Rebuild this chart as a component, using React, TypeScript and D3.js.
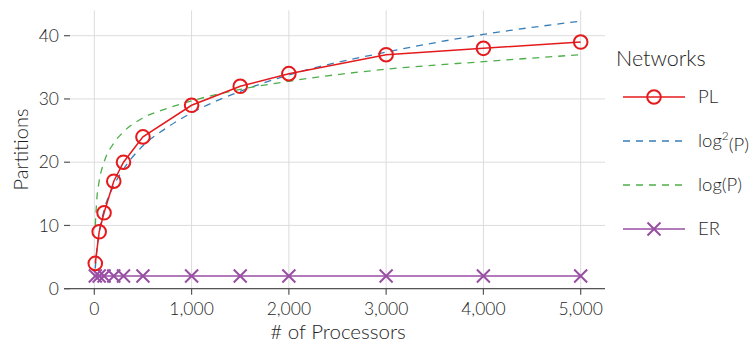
import * as d3 from "d3";
import React from "react";

// # of processors for the measured series
const processors = [10, 50, 100, 200, 300, 500, 1000, 1500, 2000, 3000, 4000, 5000];
const plPartitions = [4, 9, 12, 17, 20, 24, 29, 32, 34, 37, 38, 39];
const erPartitions = [2, 2, 2, 2, 2, 2, 2, 2, 2, 2, 2, 2];

// reference curves
const refProcessors = [10, 25, 50, 100, 200, 300, 500, 750, 1000, 1500, 2000, 3000, 4000, 5000];
const log2Curve = [3.2, 6, 8.9, 12.4, 16.3, 18.9, 22.6, 25.5, 27.8, 31.2, 33.8, 37.4, 40.2, 42.3];
const logCurve = [10, 14, 17, 20, 23, 24.8, 27, 28.5, 29.7, 31.5, 32.8, 34.7, 35.9, 37];

const xTicks = [0, 1000, 2000, 3000, 4000, 5000];
const yTicks = [0, 10, 20, 30, 40];

const RED = "#e41a1c";
const BLUE = "#377eb8";
const GREEN = "#4daf4a";
const PURPLE = "#984ea3";
const FONT = "Lato, 'Open Sans', sans-serif";
const TEXT = "#1e1e1e";

const App = () => {
  const left = 70;
  const right = 605;
  const top = 10.4;
  const bottom = 288.7;

  const x = d3.scaleLinear().domain([-250, 5250]).range([left, right]);
  const y = d3.scaleLinear().domain([0, 44]).range([bottom, top]);

  const line = d3
    .line<[number, number]>()
    .x((d) => x(d[0]))
    .y((d) => y(d[1]));
  const smooth = d3
    .line<[number, number]>()
    .x((d) => x(d[0]))
    .y((d) => y(d[1]))
    .curve(d3.curveMonotoneX);

  const pl = processors.map((p, i) => [p, plPartitions[i]] as [number, number]);
  const er = processors.map((p, i) => [p, erPartitions[i]] as [number, number]);
  const l2 = refProcessors.map((p, i) => [p, log2Curve[i]] as [number, number]);
  const l1 = refProcessors.map((p, i) => [p, logCurve[i]] as [number, number]);

  const fmt = d3.format(",");
  const cross = (cx: number, cy: number, s: number) =>
    `M${cx - s},${cy - s}L${cx + s},${cy + s}M${cx - s},${cy + s}L${cx + s},${cy - s}`;

  const legendItems = [
    { key: "PL", color: RED, dash: null, marker: "circle" },
    { key: "log2", color: BLUE, dash: "7,6", marker: null },
    { key: "log", color: GREEN, dash: "7,6", marker: null },
    { key: "ER", color: PURPLE, dash: null, marker: "cross" },
  ];

  return (
    <svg
      width={756}
      height={346}
      style={{ position: "absolute", left: 0, top: 0, background: "#fff" }}
      fontFamily={FONT}
      fontWeight={300}
    >
      {/* grid */}
      <g stroke="#dcdcdc" strokeWidth={1}>
        {xTicks.map((t) => (
          <line key={"gx" + t} x1={x(t)} x2={x(t)} y1={top} y2={bottom} />
        ))}
        {yTicks.map((t) => (
          <line key={"gy" + t} x1={left} x2={right} y1={y(t)} y2={y(t)} />
        ))}
      </g>

      {/* axes */}
      <g stroke="#555" strokeWidth={1.2}>
        <line x1={64} x2={right} y1={bottom} y2={bottom} />
        {xTicks.map((t) => (
          <line key={"tx" + t} x1={x(t)} x2={x(t)} y1={bottom} y2={bottom + 6} />
        ))}
        {yTicks.map((t) => (
          <line key={"ty" + t} x1={64} x2={left} y1={y(t)} y2={y(t)} />
        ))}
      </g>
      <g fill={TEXT} fontSize={17.5}>
        {xTicks.map((t) => (
          <text key={"lx" + t} x={x(t)} y={315} textAnchor="middle">
            {fmt(t)}
          </text>
        ))}
        {yTicks.map((t) => (
          <text key={"ly" + t} x={59} y={y(t)} dy="0.35em" textAnchor="end">
            {t}
          </text>
        ))}
      </g>
      <text x={338} y={339} textAnchor="middle" fontSize={20.5} fill={TEXT}>
        # of Processors
      </text>
      <text
        transform={`translate(28, ${(top + bottom) / 2}) rotate(-90)`}
        textAnchor="middle"
        fontSize={20}
        fill={TEXT}
      >
        Partitions
      </text>

      {/* series */}
      <path d={smooth(l2) || ""} fill="none" stroke={BLUE} strokeWidth={1.3} strokeDasharray="7,6" />
      <path d={smooth(l1) || ""} fill="none" stroke={GREEN} strokeWidth={1.3} strokeDasharray="7,6" />
      <path d={line(er) || ""} fill="none" stroke={PURPLE} strokeWidth={1.5} />
      <g stroke={PURPLE} strokeWidth={2} fill="none">
        {er.map((d, i) => (
          <path key={"er" + i} d={cross(x(d[0]), y(d[1]), 6.5)} />
        ))}
      </g>
      <path d={line(pl) || ""} fill="none" stroke={RED} strokeWidth={1.5} />
      <g stroke={RED} strokeWidth={2} fill="none">
        {pl.map((d, i) => (
          <circle key={"pl" + i} cx={x(d[0])} cy={y(d[1])} r={6.8} />
        ))}
      </g>

      {/* legend */}
      <text x={616} y={66} fontSize={21.5} fill={TEXT}>
        Networks
      </text>
      {legendItems.map((it, i) => {
        const ly = 97 + i * 44;
        return (
          <g key={it.key}>
            <line
              x1={623}
              x2={685}
              y1={ly}
              y2={ly}
              stroke={it.color}
              strokeWidth={it.dash ? 1.3 : 1.5}
              strokeDasharray={it.dash || undefined}
            />
            {it.marker === "circle" && (
              <circle cx={654} cy={ly} r={6.8} fill="none" stroke={it.color} strokeWidth={2} />
            )}
            {it.marker === "cross" && (
              <path d={cross(654, ly, 6.5)} stroke={it.color} strokeWidth={2} fill="none" />
            )}
            <text x={698} y={ly} dy="0.35em" fontSize={18.5} fill={TEXT}>
              {it.key === "log2" ? (
                <>
                  log
                  <tspan fontSize={12} dy="-0.6em">2</tspan>
                  <tspan dy="0.6em">(P)</tspan>
                </>
              ) : it.key === "log" ? (
                "log(P)"
              ) : (
                it.key
              )}
            </text>
          </g>
        );
      })}
    </svg>
  );
};

export default App;
